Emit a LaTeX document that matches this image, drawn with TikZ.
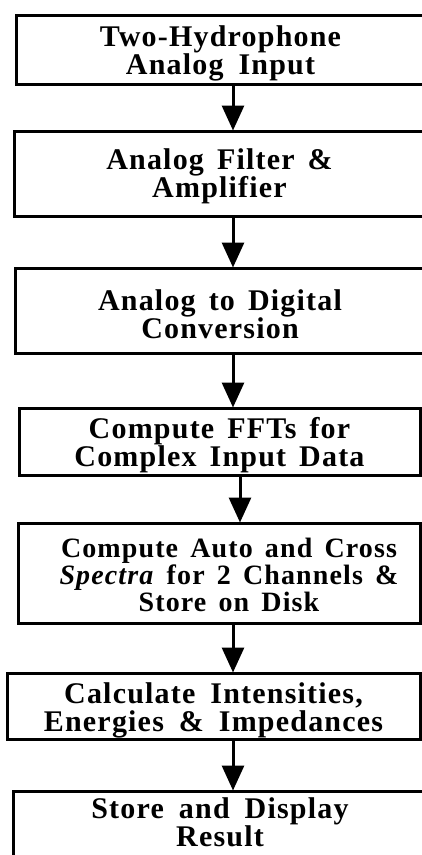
\documentclass[tikz,border=0pt]{standalone}
\usepackage{fontspec}
\setmainfont{Liberation Serif}[LetterSpace=4,WordSpace=1.5]
\usetikzlibrary{arrows.meta}
\tikzset{
  box/.style={draw=black, line width=3pt, rectangle, inner sep=0pt, fill=white},
  txt/.style={inner sep=0pt, align=center, font=\fontsize{30}{28}\selectfont\bfseries},
  arr/.style={line width=3pt, -{Triangle[width=22pt,length=25pt]}, shorten >=-1pt}
}
\begin{document}
\begin{tikzpicture}[x=1pt,y=1pt]
\useasboundingbox (0,0) rectangle (422,-855);
\fill[white] (0,0) rectangle (422,-855);
\node[box, minimum width=409, minimum height=69] (b1) at (220.5,-49.5) {};
\node[box, minimum width=411, minimum height=85] (b2) at (219.5,-173.5) {};
\node[box, minimum width=410, minimum height=85] (b3) at (220,-310.5) {};
\node[box, minimum width=401, minimum height=67] (b4) at (219.5,-441.5) {};
\node[box, minimum width=402, minimum height=100] (b5) at (219,-573) {};
\node[box, minimum width=413, minimum height=66] (b6) at (213.5,-706) {};
\node[box, minimum width=412, minimum height=74] (b7) at (219,-828) {};
\node[txt] (t1) at ([yshift=-4]b1.center) {Two-Hydrophone\\Analog\enspace Input};
\node[txt] (t2) at ([yshift=-3]b2.center) {Analog Filter \&\\Amplifier};
\node[txt] (t3) at ([yshift=-4]b3.center) {Analog to Digital\\Conversion};
\node[txt] (t4) at ([yshift=-4]b4.center) {Compute FFTs for\\Complex Input Data};
\node[txt, font=\fontsize{28}{27}\selectfont\bfseries] (t5) at ([xshift=10,yshift=-2]b5.center)
  {Compute Auto and Cross\\\textit{Spectra} for 2 Channels \&\\Store on Disk};
\node[txt] (t6) at ([yshift=-4]b6.center) {Calculate\enspace Intensities,\\Energies\enspace \&\enspace Impedances};
\node[txt] (t7) at (220,-822) {Store\enspace and\enspace Display\\Result};
\coordinate (ax) at (233,0);
\coordinate (ay) at (240,0);
\draw[arr] (b1.south -| ax) -- (b2.north -| ax);
\draw[arr] (b2.south -| ax) -- (b3.north -| ax);
\draw[arr] (b3.south -| ax) -- (b4.north -| ax);
\draw[arr] (b4.south -| ay) -- (b5.north -| ay);
\draw[arr] (b5.south -| ax) -- (b6.north -| ax);
\draw[arr] (b6.south -| ax) -- (b7.north -| ax);
\end{tikzpicture}
\end{document}
